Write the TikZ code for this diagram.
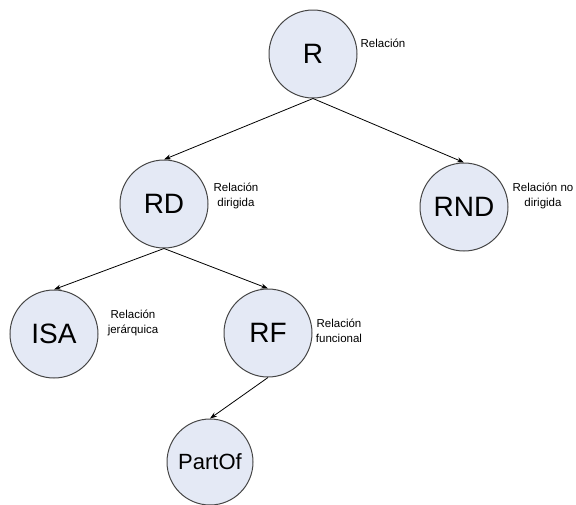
\documentclass[tikz,border=0pt]{standalone}
\usepackage{fontspec}
\setmainfont{Liberation Sans}
\usetikzlibrary{arrows.meta}
\definecolor{nodefill}{RGB}{228,233,245}
\definecolor{nodeline}{RGB}{70,70,70}
\begin{document}
\begin{tikzpicture}[x=1pt,y=-1pt,
  relnode/.style={circle,draw=nodeline,fill=nodefill,line width=1pt,minimum size=88pt,inner sep=0pt,font=\fontsize{28}{30}\selectfont},
  smallrel/.style={relnode,font=\fontsize{22}{24}\selectfont,minimum size=86pt},
  note/.style={align=center,font=\fontsize{11.5}{15}\selectfont,inner sep=0pt},
  conn/.style={line width=0.8pt,-{Stealth[length=7pt,width=5pt]}}]
\useasboundingbox (0,0) rectangle (576,504);
\node[relnode] (R) at (313,54) {R};
\node[relnode] (RD) at (164,204) {RD};
\node[relnode] (RND) at (464,207) {RND};
\node[relnode] (ISA) at (54,334) {ISA};
\node[relnode] (RF) at (268,333) {RF};
\node[smallrel] (PartOf) at (210,462) {PartOf};
\node[note] (lR) at (383,43) {Relación};
\node[note] (lRD) at (236,196) {Relación\\dirigida};
\node[note] (lRND) at (543,196) {Relación no\\dirigida};
\node[note] (lISA) at (133,323) {Relación\\jerárquica};
\node[note] (lRF) at (339,331) {Relación\\funcional};
\draw[conn] (R.south) -- (RD.north);
\draw[conn] (R.south) -- (RND.north);
\draw[conn] (RD.south) -- (ISA.north);
\draw[conn] (RD.south) -- (RF.north);
\draw[conn] (RF.south) -- (PartOf.north);
\end{tikzpicture}
\end{document}
